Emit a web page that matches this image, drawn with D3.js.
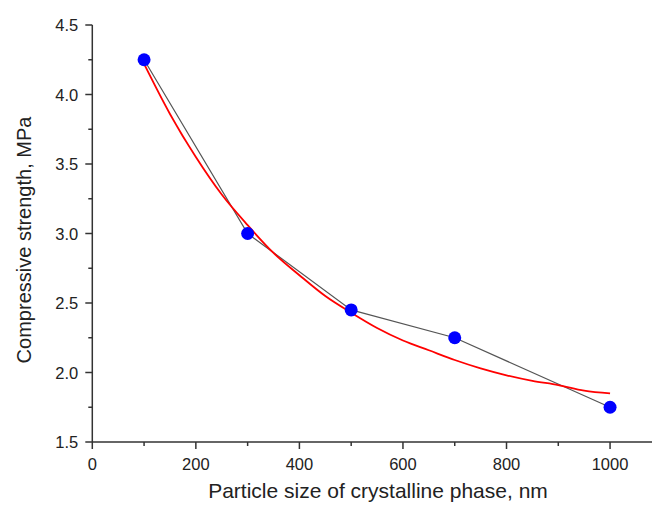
<!DOCTYPE html>
<html><head><meta charset="utf-8">
<script src="https://cdn.jsdelivr.net/npm/d3@7"></script>
<style>body{margin:0;background:#fff}svg{display:block}</style>
</head><body>
<svg id="c" width="653" height="506"></svg>
<script>
const sizes = [100, 300, 500, 700, 1000];
const strength = [4.25, 3.0, 2.45, 2.25, 1.75];
const fitX = [100,150,200,250,300,350,400,450,500,550,600,650,700,750,800,850,900,950,1000];
const fitY = [4.22,3.86,3.55,3.28,3.06,2.86,2.70,2.55,2.43,2.32,2.23,2.16,2.09,2.03,1.98,1.94,1.91,1.87,1.85];
const xTicks = [0,200,400,600,800,1000];
const yTicks = [1.5,2.0,2.5,3.0,3.5,4.0,4.5];
const xTitle = "Particle size of crystalline phase, nm";
const yTitle = "Compressive strength, MPa";

const svg = d3.select("#c");
const x = d3.scaleLinear().domain([0, 1081]).range([92.3, 652]);
const y = d3.scaleLinear().domain([1.5, 4.5]).range([442, 25]);
const font = "'Liberation Sans', Arial, sans-serif";
const axisColor = "#333";

// x axis
const gx = svg.append("g").attr("transform", `translate(0,${y(1.5)})`);
gx.append("line").attr("x1", x(0)).attr("x2", 652).attr("stroke", axisColor).attr("stroke-width", 1.5);
const xMinor = d3.range(100, 1100, 200);
gx.selectAll(".mn").data(xMinor).join("line").attr("x1", d=>x(d)).attr("x2", d=>x(d)).attr("y1",0).attr("y2",4).attr("stroke",axisColor).attr("stroke-width",1.5);
gx.selectAll(".mj").data(xTicks).join("line").attr("x1", d=>x(d)).attr("x2", d=>x(d)).attr("y1",0).attr("y2",7).attr("stroke",axisColor).attr("stroke-width",1.5);
gx.selectAll("text").data(xTicks).join("text").attr("x", d=>x(d)).attr("y", 28).attr("text-anchor","middle")
  .attr("font-family", font).attr("font-size", 16.5).attr("fill","#222").text(d=>d);

// y axis
const gy = svg.append("g").attr("transform", `translate(${x(0)},0)`);
gy.append("line").attr("y1", y(1.5)).attr("y2", y(4.5)).attr("stroke", axisColor).attr("stroke-width", 1.5);
const yMinor = d3.range(1.75, 4.5, 0.5);
gy.selectAll(".mn").data(yMinor).join("line").attr("y1", d=>y(d)).attr("y2", d=>y(d)).attr("x1",0).attr("x2",-4).attr("stroke",axisColor).attr("stroke-width",1.5);
gy.selectAll(".mj").data(yTicks).join("line").attr("y1", d=>y(d)).attr("y2", d=>y(d)).attr("x1",0).attr("x2",-7).attr("stroke",axisColor).attr("stroke-width",1.5);
gy.selectAll("text").data(yTicks).join("text").attr("x", -14).attr("y", d=>y(d)+6).attr("text-anchor","end")
  .attr("font-family", font).attr("font-size", 16.5).attr("fill","#222").text(d=>d.toFixed(1));

// titles
svg.append("text").attr("x", 378).attr("y", 498).attr("text-anchor","middle").attr("font-family", font)
  .attr("font-size", 21).attr("fill","#222").text(xTitle);
svg.append("text").attr("transform", `translate(31,240) rotate(-90)`).attr("text-anchor","middle").attr("font-family", font)
  .attr("font-size", 20).attr("fill","#222").text(yTitle);

// data line
const pts = sizes.map((s,i)=>[s, strength[i]]);
svg.append("path").datum(pts).attr("fill","none").attr("stroke","#555").attr("stroke-width",1.2)
  .attr("d", d3.line().x(d=>x(d[0])).y(d=>y(d[1])));

// fit curve
const fit = fitX.map((s,i)=>[s, fitY[i]]);
svg.append("path").datum(fit).attr("fill","none").attr("stroke","#ff0000").attr("stroke-width",1.8)
  .attr("d", d3.line().curve(d3.curveMonotoneX).x(d=>x(d[0])).y(d=>y(d[1])));

// markers
svg.selectAll(".pt").data(pts).join("circle").attr("cx", d=>x(d[0])).attr("cy", d=>y(d[1])).attr("r", 6.5).attr("fill","#0000ff");
</script>
</body></html>
